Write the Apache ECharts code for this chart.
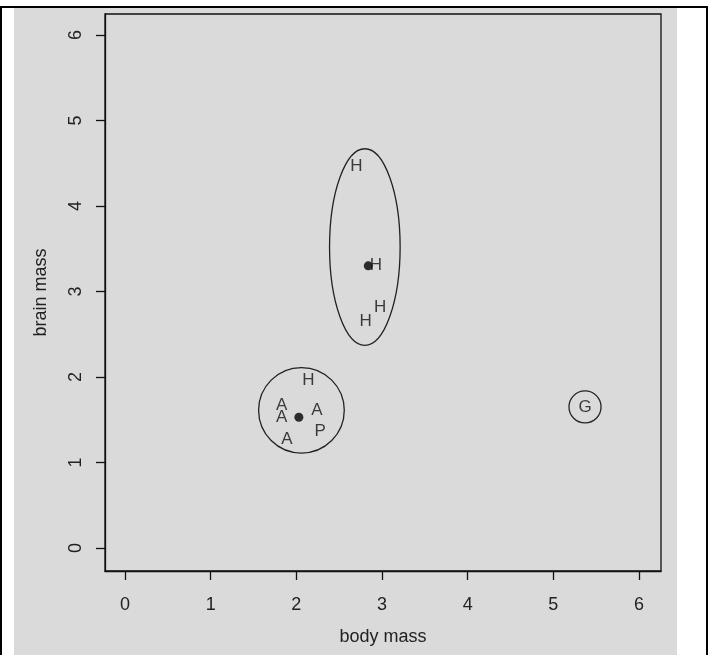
<!DOCTYPE html>
<html>
<head>
  <meta charset="utf-8">
  <title></title>
  <style>
    html, body { margin: 0; padding: 0; background: #fff; }
    #wrap { position: relative; width: 713px; height: 655px; overflow: hidden; }
    #frame { position: absolute; left: 0; top: 6px; width: 704px; height: 660px;
      border-left: 2px solid #000; border-top: 2px solid #000; border-right: 2px solid #000; }
    #bg { position: absolute; left: 14px; top: 8px; width: 663px; height: 647px; background: #dadada; }
    #main { position: absolute; left: 0; top: 0; width: 713px; height: 655px; }
  </style>
</head>
<body>
  <div id="wrap">
    <div id="frame"></div>
    <div id="bg"></div>
    <div id="main"></div>
  </div>
<script src="https://cdn.jsdelivr.net/npm/echarts@6/dist/echarts.min.js"></script>
<script>
  // letters for each observation
  let letters = ['H', 'A', 'A', 'A', 'A', 'P', 'H', 'H', 'H', 'H', 'G'];
  let bodyMass = [2.14, 1.83, 1.83, 1.89, 2.24, 2.28, 2.70, 2.93, 2.98, 2.81, 5.37];
  let brainMass = [1.96, 1.67, 1.53, 1.27, 1.61, 1.36, 4.46, 3.31, 2.82, 2.65, 1.65];

  // cluster centres (black dots)
  let centreX = [2.03, 2.84];
  let centreY = [1.53, 3.30];

  // cluster ellipses: centre and half axes
  let ellCx = [2.06, 2.80, 5.37];
  let ellCy = [1.61, 3.52, 1.65];
  let ellRx = [0.50, 0.412, 0.187];
  let ellRy = [0.50, 1.15, 0.187];

  let ticks = [0, 1, 2, 3, 4, 5, 6];

  let font = 'Liberation Sans, Arial, sans-serif';
  let myChart = echarts.init(document.getElementById('main'));

  let option = {
    backgroundColor: 'transparent',
    animation: false,
    grid: {
      left: 105, top: 14, right: 52, bottom: 84,
      show: true, borderColor: '#111', borderWidth: 1.3, backgroundColor: 'transparent'
    },
    xAxis: {
      type: 'value', min: -0.233, max: 6.257,
      name: 'body mass', nameLocation: 'middle', nameGap: 57,
      nameTextStyle: { fontFamily: font, fontSize: 18, color: '#222' },
      axisLine: { show: true, onZero: false, lineStyle: { color: '#111', width: 1.3 } },
      axisTick: { show: true, inside: false, length: 9, customValues: ticks, lineStyle: { color: '#111', width: 1.3 } },
      axisLabel: { customValues: ticks, margin: 25, fontFamily: font, fontSize: 18, color: '#222' },
      splitLine: { show: false }
    },
    yAxis: {
      type: 'value', min: -0.269, max: 6.246,
      name: 'brain mass', nameLocation: 'middle', nameGap: 55,
      nameTextStyle: { fontFamily: font, fontSize: 18, color: '#222' },
      axisLine: { show: true, onZero: false, lineStyle: { color: '#111', width: 1.3 } },
      axisTick: { show: true, inside: false, length: 9, customValues: ticks, lineStyle: { color: '#111', width: 1.3 } },
      axisLabel: { customValues: ticks, rotate: 90, margin: 20, fontFamily: font, fontSize: 18, color: '#222' },
      splitLine: { show: false }
    },
    series: [
      {
        type: 'custom',
        data: ellCx.map((x, i) => [x, ellCy[i], ellRx[i], ellRy[i]]),
        renderItem: function (params, api) {
          let c = api.coord([api.value(0), api.value(1)]);
          let s = api.size([api.value(2), api.value(3)]);
          return {
            type: 'ellipse',
            shape: { cx: c[0], cy: c[1], rx: s[0], ry: s[1] },
            style: { fill: 'none', stroke: '#222', lineWidth: 1.3 }
          };
        }
      },
      {
        type: 'scatter',
        data: bodyMass.map((x, i) => ({ value: [x, brainMass[i]], name: letters[i] })),
        symbolSize: 1,
        itemStyle: { color: 'transparent' },
        label: {
          show: true, position: 'inside', formatter: '{b}',
          fontFamily: font, fontSize: 17, color: '#111'
        }
      },
      {
        type: 'scatter',
        data: centreX.map((x, i) => [x, centreY[i]]),
        symbolSize: 9,
        itemStyle: { color: '#000' }
      }
    ]
  };

  myChart.setOption(option);
</script>
</body>
</html>
